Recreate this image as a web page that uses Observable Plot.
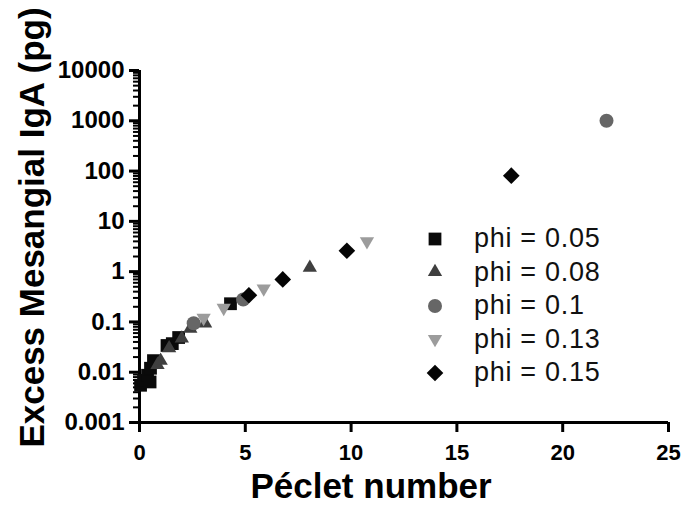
<!DOCTYPE html>
<html>
<head>
<meta charset="utf-8">
<script src="https://cdn.jsdelivr.net/npm/d3@7"></script>
<script src="https://cdn.jsdelivr.net/npm/@observablehq/plot@0.6"></script>
<style>
  html, body { margin: 0; padding: 0; background: #fff; }
  #wrap { position: relative; width: 686px; height: 506px; font-family: "Liberation Sans", Arial, sans-serif; }
  #wrap svg.plot { position: absolute; left: 0; top: 0; }
  #legend { position: absolute; left: 420px; top: 222px; }
  .row { display: flex; align-items: center; height: 33.5px; }
  .row svg { width: 30px; height: 30px; margin-right: 24px; }
  .row span { font-size: 27px; letter-spacing: 0.7px; color: #111; line-height: 1; }
</style>
</head>
<body>
<div id="wrap"></div>
<script>
// ---- data ----
const seriesNames = ["phi = 0.05", "phi = 0.08", "phi = 0.1", "phi = 0.13", "phi = 0.15"];

const phi005_x = [0.05, 0.19, 0.38, 0.5, 0.52, 0.66, 1.3, 1.55, 1.85, 4.3];
const phi005_y = [0.0055, 0.0069, 0.0087, 0.0064, 0.012, 0.017, 0.034, 0.037, 0.049, 0.23];

const phi008_x = [0.85, 1.0, 1.4, 2.0, 2.4, 3.1, 8.05];
const phi008_y = [0.014, 0.017, 0.03, 0.047, 0.074, 0.094, 1.2];

const phi010_x = [2.56, 4.9, 22.07];
const phi010_y = [0.094, 0.28, 1000];

const phi013_x = [3.03, 3.98, 5.87, 10.75];
const phi013_y = [0.12, 0.19, 0.46, 4.0];

const phi015_x = [5.17, 6.77, 9.8, 17.57];
const phi015_y = [0.34, 0.70, 2.6, 81];

const xTicks = [0, 5, 10, 15, 20, 25];
const yTicks = [0.001, 0.01, 0.1, 1, 10, 100, 1000, 10000];

// ---- build ----
const toRows = (xs, ys) => xs.map((x, i) => ({x, y: ys[i]}));

const triangleDown = {
  draw(ctx, size) {
    const y = -Math.sqrt(size / (Math.sqrt(3) * 3));
    ctx.moveTo(0, -y * 2);
    ctx.lineTo(-Math.sqrt(3) * y, y);
    ctx.lineTo(Math.sqrt(3) * y, y);
    ctx.closePath();
  }
};

const styles = [
  {symbol: "square",   fill: "#0a0a0a", r: 7.2},
  {symbol: "triangle", fill: "#3f3f3f", r: 5.3},
  {symbol: "circle",   fill: "#666666", r: 7.0},
  {symbol: triangleDown, fill: "#9c9c9c", r: 5.3},
  {symbol: "diamond2", fill: "#050505", r: 7.5}
];

const datasets = [
  toRows(phi005_x, phi005_y),
  toRows(phi008_x, phi008_y),
  toRows(phi010_x, phi010_y),
  toRows(phi013_x, phi013_y),
  toRows(phi015_x, phi015_y)
];

const minorTicks = [];
for (let k = -3; k < 4; k++) for (let m = 2; m <= 9; m++) minorTicks.push(m * Math.pow(10, k));

const font = "'Liberation Sans', Arial, sans-serif";

const chart = Plot.plot({
  width: 686,
  height: 506,
  marginLeft: 139,
  marginRight: 18,
  marginTop: 70,
  marginBottom: 84,
  style: {fontFamily: font, color: "#000", background: "transparent"},
  x: {domain: [0, 25]},
  y: {type: "log", domain: [0.001, 10000]},
  marks: [
    Plot.axisY({ticks: minorTicks, tickSize: 6, strokeWidth: 2, text: null, label: null}),
    Plot.axisY({ticks: yTicks, tickSize: 10, strokeWidth: 3, tickPadding: 5, tickFormat: d => String(d),
      fontSize: 24, fontWeight: "bold", label: null}),
    Plot.axisX({ticks: xTicks, tickSize: 10, strokeWidth: 3, tickPadding: 12, tickFormat: d => String(d),
      fontSize: 22, fontWeight: "bold", label: null}),
    Plot.ruleX([0], {y1: 0.001, y2: 10000, strokeWidth: 3, stroke: "#000"}),
    Plot.ruleY([0.001], {x1: 0, x2: 25, strokeWidth: 3, stroke: "#000"}),
    ...datasets.map((d, i) => Plot.dot(d, {x: "x", y: "y", symbol: styles[i].symbol, fill: styles[i].fill, r: styles[i].r, stroke: "none"})),
    Plot.text(["Péclet number"], {frameAnchor: "bottom", textAnchor: "middle", dx: -33, dy: 64, fontSize: 35, fontWeight: "bold", lineAnchor: "middle", fill: "#000"}),
    Plot.text(["Excess Mesangial IgA (pg)"], {frameAnchor: "left", textAnchor: "middle", rotate: -90, dx: -107, dy: -19, fontSize: 35, fontWeight: "bold", lineAnchor: "middle", fill: "#000"})
  ]
});
chart.classList.add("plot");
const wrap = document.getElementById("wrap");
wrap.appendChild(chart);

// ---- legend ----
const legend = document.createElement("div");
legend.id = "legend";
seriesNames.forEach((name, i) => {
  const row = document.createElement("div");
  row.className = "row";
  const s = d3.create("svg").attr("viewBox", "-15 -15 30 30");
  const st = styles[i];
  const symType = typeof st.symbol === "string"
    ? ({square: d3.symbolSquare, triangle: d3.symbolTriangle, circle: d3.symbolCircle, diamond2: d3.symbolDiamond2})[st.symbol]
    : st.symbol;
  s.append("path").attr("d", d3.symbol(symType, st.r * st.r * Math.PI)()).attr("fill", st.fill);
  row.appendChild(s.node());
  const t = document.createElement("span");
  t.textContent = name;
  row.appendChild(t);
  legend.appendChild(row);
});
wrap.appendChild(legend);
</script>
</body>
</html>
